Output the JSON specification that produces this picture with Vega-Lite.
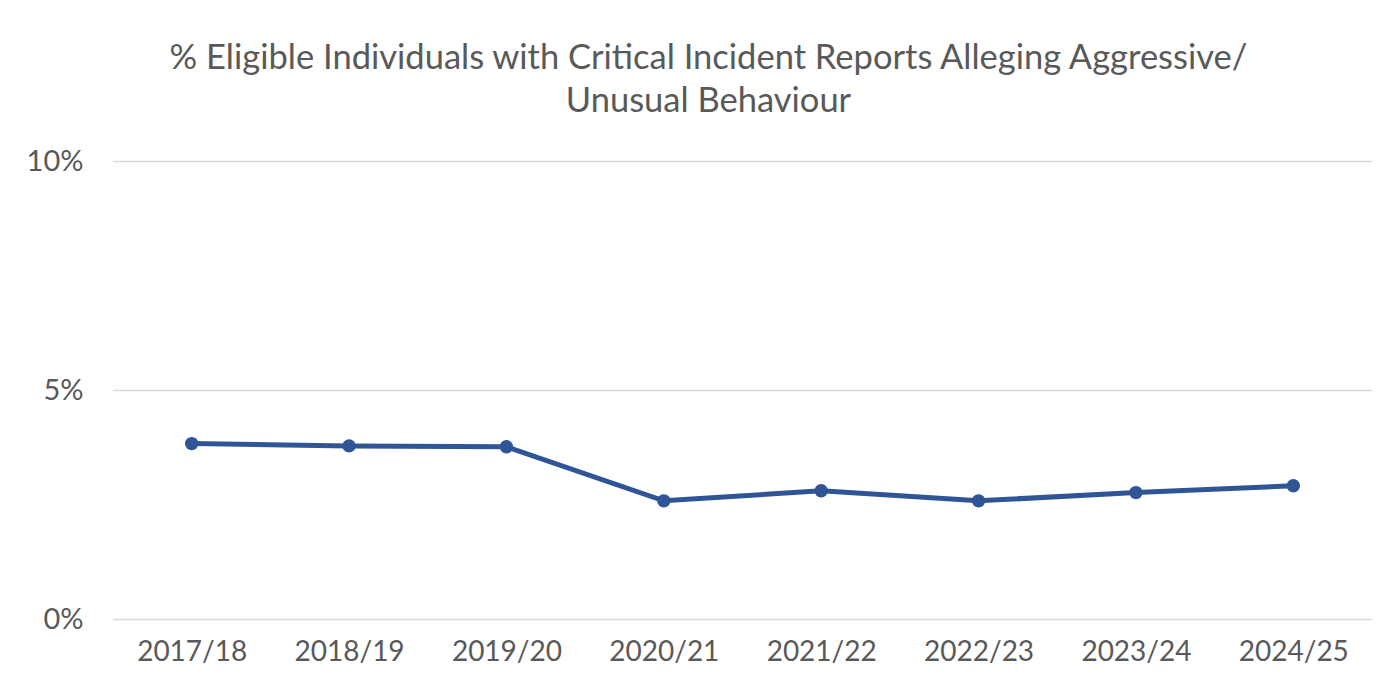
{
  "$schema": "https://vega.github.io/schema/vega-lite/v6.json",
  "width": 1259,
  "height": 458,
  "autosize": {"type": "none"},
  "padding": {"left": 113, "top": 161, "right": 23, "bottom": 68},
  "background": "white",
  "title": {
    "text": ["% Eligible Individuals with Critical Incident Reports Alleging Aggressive/", "Unusual Behaviour"],
    "anchor": "middle",
    "dx": -34,
    "offset": 28,
    "fontSize": 34.5,
    "font": "Lato",
    "fontWeight": "normal",
    "color": "#595959",
    "lineHeight": 43
  },
  "data": {
    "values": [
      {"year": "2017/18", "pct": 0.0383},
      {"year": "2018/19", "pct": 0.0378},
      {"year": "2019/20", "pct": 0.0376},
      {"year": "2020/21", "pct": 0.0258},
      {"year": "2021/22", "pct": 0.0280},
      {"year": "2022/23", "pct": 0.0258},
      {"year": "2023/24", "pct": 0.0276},
      {"year": "2024/25", "pct": 0.0291}
    ]
  },
  "mark": {"type": "line", "color": "#2F5597", "strokeWidth": 5, "point": {"filled": true, "size": 180, "color": "#2F5597"}},
  "encoding": {
    "x": {
      "field": "year", "type": "ordinal", "title": null,
      "scale": {"paddingOuter": 0.5, "paddingInner": 0},
      "axis": {"labelAngle": 0, "ticks": false, "domain": false, "labelFont": "Lato", "labelFontSize": 28, "labelColor": "#595959", "labelPadding": 19, "grid": false}
    },
    "y": {
      "field": "pct", "type": "quantitative", "title": null,
      "scale": {"domain": [0, 0.1]},
      "axis": {"values": [0, 0.05, 0.1], "format": ".0%", "ticks": false, "domain": false, "labelFont": "Lato", "labelFontSize": 29, "labelColor": "#595959", "labelPadding": 30, "gridColor": "#d9d9d9", "gridWidth": 1.5}
    }
  },
  "config": {"view": {"stroke": null}}
}
